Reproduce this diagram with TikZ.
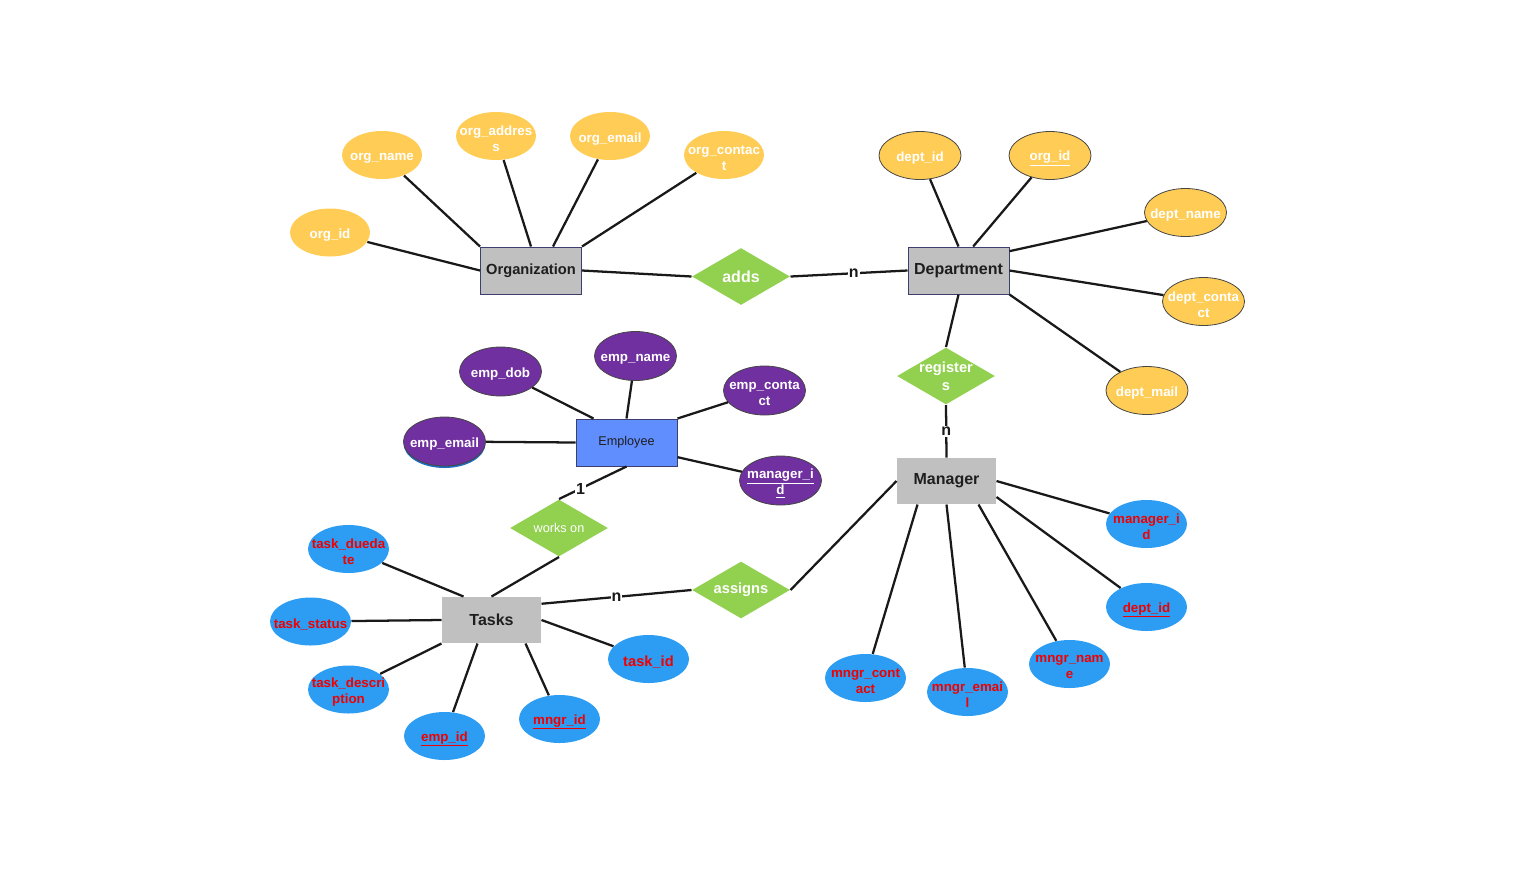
\documentclass[tikz,border=0pt]{standalone}
\usepackage{fontspec}
\setmainfont{Liberation Sans}
\usetikzlibrary{shapes.geometric,shadows}

\definecolor{attryellow}{RGB}{255,204,85}
\definecolor{attrpurple}{RGB}{112,48,160}
\definecolor{attrblue}{RGB}{44,157,242}
\definecolor{relgreen}{RGB}{146,208,80}
\definecolor{boxgray}{RGB}{192,192,192}
\definecolor{empblue}{RGB}{97,142,255}
\definecolor{boxline}{RGB}{60,62,110}
\definecolor{rimgray}{RGB}{70,70,70}
\definecolor{inkred}{RGB}{240,0,0}
\definecolor{shadowblue}{RGB}{30,110,190}

\tikzset{every picture/.style={line width=0.75pt}}
\tikzset{
  entity/.style={rectangle, draw=boxline, fill=boxgray, minimum width=75.75pt, minimum height=35.25pt, inner sep=0pt, text={rgb,255:red,30;green,30;blue,30}, font=\fontsize{12}{14}\selectfont\bfseries},
  plainbox/.style={entity, draw=none, minimum width=74.25pt, minimum height=34.5pt},
  attrtext/.style={text=white, align=center, inner sep=0pt, yshift=-2.2pt, font=\fontsize{10}{12}\selectfont\bfseries},
  redtext/.style={attrtext, text=inkred},
  reltext/.style={text=white, align=center, inner sep=0pt, font=\fontsize{11}{13.5}\selectfont\bfseries},
  yattr/.style={ellipse, fill=attryellow, minimum width=60pt, minimum height=36pt, inner sep=0pt, label={[attrtext]center:#1}},
  ylined/.style={yattr={#1}, draw=rimgray, line width=0.6pt, minimum width=61.5pt},
  pattr/.style={ellipse, fill=attrpurple, draw=rimgray, line width=0.6pt, minimum width=61.5pt, minimum height=36.75pt, inner sep=0pt, label={[attrtext]center:#1}},
  battr/.style={ellipse, fill=attrblue, minimum width=60.75pt, minimum height=36pt, inner sep=0pt, label={[redtext]center:#1}},
  rel/.style={diamond, fill=relgreen, minimum width=73.5pt, minimum height=42.75pt, inner sep=0pt, label={[reltext]center:#1}},
  link/.style={line width=1.7pt, draw={rgb,255:red,25;green,25;blue,25}},
  card/.style={fill=white, inner sep=0.8pt, text={rgb,255:red,25;green,25;blue,25}, font=\fontsize{12}{14}\selectfont\bfseries}
}

\begin{document}
\begin{tikzpicture}[x=0.75pt,y=0.75pt,yscale=-1,xscale=1]
\useasboundingbox (0,0) rectangle (1516,872);

% Entities
\node[entity, font=\fontsize{11}{13}\selectfont\bfseries] (org) at (531,270.5) {Organization};
\node[entity] (dept) at (958.5,270.5) {Department};
\node[entity, fill=empblue, font=\fontsize{9.5}{11}\selectfont] (emp) at (626.5,442.5) {Employee};
\node[plainbox] (tasks) at (491.5,620) {Tasks};
\node[plainbox] (mgr) at (946.5,481) {Manager};

% Relationships
\node[rel={\fontsize{12}{14}\selectfont adds}] (adds) at (741,276.5) {};
\node[rel={register\\s}] (reg) at (946,376) {};
\node[rel={\fontsize{9.5}{11}\selectfont\mdseries works on}] (works) at (559,528) {};
\node[rel={assigns}] (assigns) at (741,590) {};

% Organization attributes
\node[yattr={org\_id}] (orgid) at (330,232.5) {};
\node[yattr={org\_name}] (orgname) at (382,155) {};
\node[yattr={org\_addres\\s}] (orgaddress) at (496,136) {};
\node[yattr={org\_email}] (orgemail) at (610,136) {};
\node[yattr={org\_contac\\t}] (orgcontact) at (724,155) {};

% Department attributes
\node[ylined={dept\_id}] (deptid) at (920,155.5) {};
\node[ylined={\underline{org\_id}}] (deptorgid) at (1050,155.5) {};
\node[ylined={dept\_name}] (deptname) at (1185.5,212.5) {};
\node[ylined={dept\_conta\\ct}] (deptcontact) at (1203.5,301.5) {};
\node[ylined={dept\_mail}] (deptmail) at (1147,390.5) {};

% Employee attributes
\node[pattr={emp\_dob}] (empdob) at (500.5,371.5) {};
\node[pattr={emp\_name}] (empname) at (635.5,356) {};
\node[pattr={emp\_conta\\ct}] (empcontact) at (764.5,390.5) {};
\node[pattr={emp\_email}, drop shadow={shadow xshift=0pt, shadow yshift=-1.5pt, fill=shadowblue, opacity=1}] (empemail) at (444.5,441.5) {};
\node[pattr={\underline{manager\_i}\\\underline{d}}] (empmgrid) at (780.5,480.5) {};

% Tasks attributes
\node[battr={task\_dueda\\te}] (taskdue) at (348.5,549) {};
\node[battr={task\_status}] (taskstatus) at (310.5,621.5) {};
\node[battr={task\_descri\\ption}] (taskdesc) at (348.5,689.5) {};
\node[battr={\underline{emp\_id}}] (taskempid) at (444.5,736) {};
\node[battr={\underline{mngr\_id}}] (taskmgrid) at (559.5,719) {};
\node[battr={\fontsize{11}{13}\selectfont task\_id}] (taskid) at (648.5,659) {};

% Manager attributes
\node[battr={manager\_i\\d}] (mgrid) at (1146.5,524) {};
\node[battr={\underline{dept\_id}}] (mgrdeptid) at (1146.5,607) {};
\node[battr={mngr\_nam\\e}] (mgrname) at (1069.5,664) {};
\node[battr={mngr\_emai\\l}] (mgremail) at (967.5,692) {};
\node[battr={mngr\_cont\\act}] (mgrcontact) at (865.5,678) {};

% Organization links
\draw[link] (orgid) -- (org.west);
\draw[link] (orgname) -- (org.north west);
\draw[link] (orgaddress) -- (org.north);
\draw[link] (orgemail) -- ([xshift=16.5pt]org.north);
\draw[link] (orgcontact) -- (org.north east);
\draw[link] (org.east) -- (adds.west);
\draw[link] (adds.east) -- node[card, pos=0.54] {n} (dept.west);

% Department links
\draw[link] (deptid) -- (dept.north);
\draw[link] (deptorgid) -- ([xshift=11pt]dept.north);
\draw[link] (deptname) -- ([yshift=3.5pt]dept.north east);
\draw[link] (deptcontact) -- (dept.east);
\draw[link] (deptmail) -- (dept.south east);
\draw[link] (dept.south) -- (reg.north);
\draw[link] (reg.south) -- node[card, pos=0.5] {n} (mgr.north);

% Employee links
\draw[link] (empdob) -- ([xshift=13.5pt]emp.north west);
\draw[link] (empname) -- (emp.north);
\draw[link] (empcontact) -- (emp.north east);
\draw[link] (empemail) -- (emp.west);
\draw[link] (empmgrid) -- ([yshift=11pt]emp.east);
\draw[link] (emp.south) -- node[card, pos=0.68] {1} (works.north);

% Tasks links
\draw[link] (works.south) -- (tasks.north);
\draw[link] (taskdue) -- ([xshift=-21pt]tasks.north);
\draw[link] (taskstatus) -- (tasks.west);
\draw[link] (taskdesc) -- (tasks.south west);
\draw[link] (taskempid) -- ([xshift=-10.5pt]tasks.south);
\draw[link] (taskmgrid) -- ([xshift=25.5pt]tasks.south);
\draw[link] (taskid) -- (tasks.east);
\draw[link] (tasks.18) -- node[card, pos=0.5] {n} (assigns.west);
\draw[link] (assigns.east) -- (mgr.west);

% Manager links
\draw[link] (mgrid) -- (mgr.east);
\draw[link] (mgrdeptid) -- ([yshift=12pt]mgr.east);
\draw[link] (mgrname) -- ([xshift=24pt]mgr.south);
\draw[link] (mgremail) -- (mgr.south);
\draw[link] (mgrcontact) -- ([xshift=-21.75pt]mgr.south);

\end{tikzpicture}
\end{document}
